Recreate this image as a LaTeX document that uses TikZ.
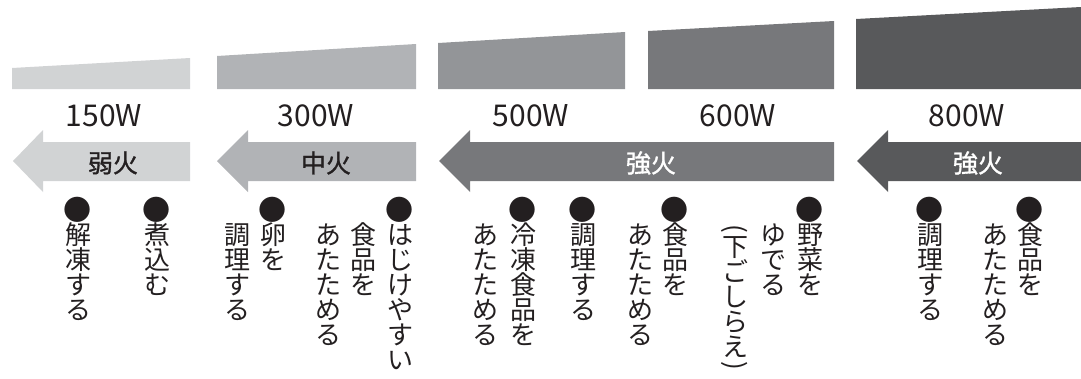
\documentclass[tikz,border=0pt]{standalone}
\usepackage{fontspec}
\setmainfont{Noto Sans CJK JP}
\newfontfamily\medfont[FakeBold=1.2]{Noto Sans CJK JP}
\definecolor{gA}{HTML}{D1D3D4}
\definecolor{gB}{HTML}{B1B3B6}
\definecolor{gC}{HTML}{939598}
\definecolor{gD}{HTML}{77787B}
\definecolor{gE}{HTML}{58595B}
\definecolor{ink}{HTML}{231F20}
\newcommand\tatecell[1]{\hbox to 25pt{\hss\raisebox{0pt}[22pt][3pt]{#1}\hss}}
\newcommand\tateparen[1]{\hbox to 25pt{\hss\raisebox{0pt}[12.5pt][0pt]{\raisebox{10.5pt}{\rotatebox{-90}{#1}}}\hss}}
\newcommand\tbul{\raisebox{-1pt}{\scalebox{1.08}{●}}}
\newcommand\tate[1]{\vbox{\offinterlineskip\tateloop#1\relax}}
\def\tateloop#1{\ifx#1\relax\else\tatecell{#1}\expandafter\tateloop\fi}
\tikzset{
  wlab/.style={font=\fontsize{30pt}{30pt}\selectfont, text=ink, inner sep=0pt, anchor=base},
  alab/.style={font=\medfont\fontsize{25pt}{25pt}\selectfont, inner sep=0pt},
  tcol/.style={font=\fontsize{26pt}{26pt}\selectfont, text=ink, inner sep=0pt, anchor=north},
}
\begin{document}
\begin{tikzpicture}[x=1pt,y=-1pt]
\useasboundingbox (0,0) rectangle (1081,378);
% top bars
\fill[gA] (12,68) -- (190,58) -- (190,89) -- (12,89) -- cycle;
\fill[gB] (217,56) -- (416,44) -- (416,89) -- (217,89) -- cycle;
\fill[gC] (438,43) -- (625,32) -- (625,89) -- (438,89) -- cycle;
\fill[gD] (648,31) -- (834,21) -- (834,89) -- (648,89) -- cycle;
\fill[gE] (856,19) -- (1081,7) -- (1081,89) -- (856,89) -- cycle;
% wattage labels
\node[wlab] (w150) at (104,126) {150W};
\node[wlab] (w300) at (316,126) {300W};
\node[wlab] (w500) at (531,126) {500W};
\node[wlab] (w600) at (738,126) {600W};
\node[wlab] (w800) at (967,126) {800W};
% arrows
\fill[gA] (190,142) -- (43,142) -- (43,130) -- (13,161) -- (43,192) -- (43,181) -- (190,181) -- cycle;
\fill[gB] (416,142) -- (248,142) -- (248,130) -- (217,161) -- (248,192) -- (248,181) -- (416,181) -- cycle;
\fill[gD] (834,142) -- (470,142) -- (470,130) -- (439,161) -- (470,192) -- (470,181) -- (834,181) -- cycle;
\fill[gE] (1081,142) -- (888,142) -- (888,130) -- (857,161) -- (888,192) -- (888,181) -- (1081,181) -- cycle;
\node[alab, text=ink] (a1) at (113,163) {弱火};
\node[alab, text=ink] (a2) at (326,163) {中火};
\node[alab, text=white] (a3) at (651,163) {強火};
\node[alab, text=white] (a4) at (978,163) {強火};
% vertical texts
\node[tcol] (v1) at (78,197) {\tate{\tbul 解凍する}};
\node[tcol] (v2) at (157,197) {\tate{\tbul 煮込む}};
\node[tcol] (v3a) at (273,197) {\tate{\tbul 卵を}};
\node[tcol] (v3b) at (237,222) {\tate{調理する}};
\node[tcol] (v4a) at (400,197) {\tate{\tbul はじけやすい}};
\node[tcol] (v4b) at (363,222) {\tate{食品を}};
\node[tcol] (v4c) at (328,222) {\tate{あたためる}};
\node[tcol] (v5a) at (523,197) {\tate{\tbul 冷凍食品を}};
\node[tcol] (v5b) at (485,222) {\tate{あたためる}};
\node[tcol] (v6) at (583,197) {\tate{\tbul 調理する}};
\node[tcol] (v7a) at (675,197) {\tate{\tbul 食品を}};
\node[tcol] (v7b) at (640,222) {\tate{あたためる}};
\node[tcol] (v8a) at (810,197) {\tate{\tbul 野菜を}};
\node[tcol] (v8b) at (773,222) {\tate{ゆでる}};
\node[tcol] (v8c) at (735,222) {\vbox{\offinterlineskip\tateparen{(}\tatecell{下}\tatecell{ご}\tatecell{し}\tatecell{ら}\tatecell{え}\tateparen{)}}};
\node[tcol] (v9) at (930,197) {\tate{\tbul 調理する}};
\node[tcol] (v10a) at (1030,197) {\tate{\tbul 食品を}};
\node[tcol] (v10b) at (995,222) {\tate{あたためる}};
\end{tikzpicture}
\end{document}
